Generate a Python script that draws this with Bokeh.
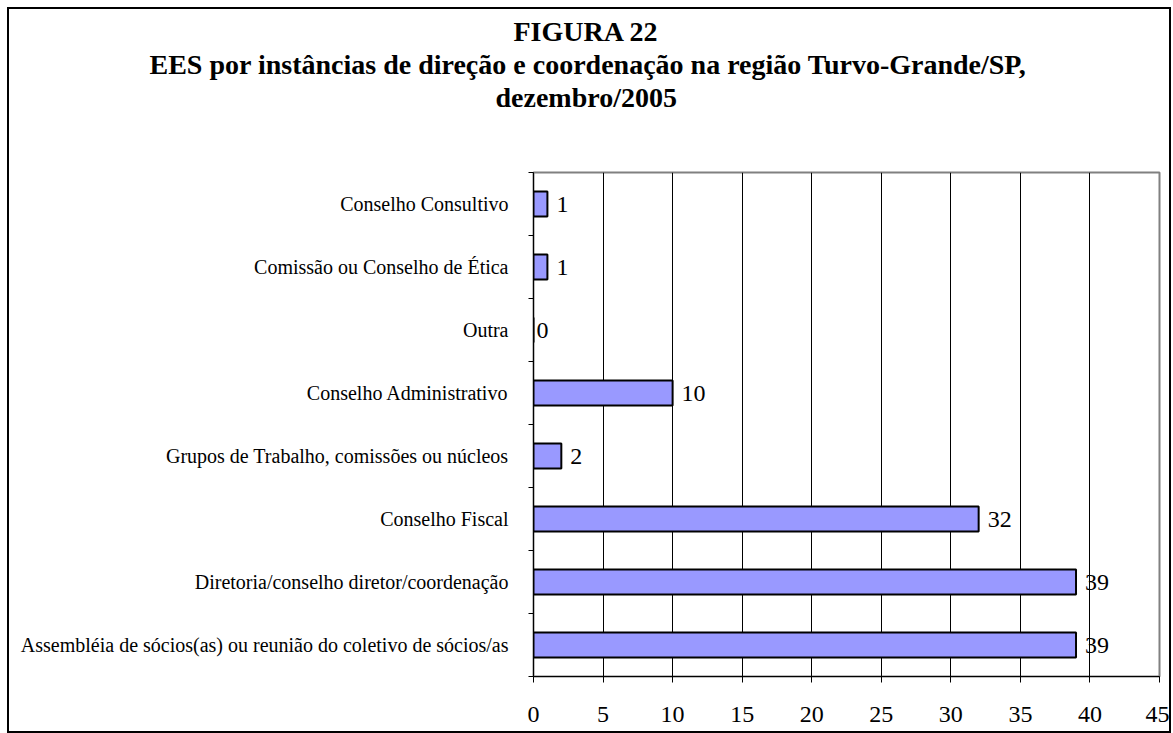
from bokeh.plotting import figure
from bokeh.models import FixedTicker, ColumnDataSource, LabelSet, Title
from bokeh.embed import file_html
from bokeh.resources import INLINE

# Data (top to bottom as shown in the reference)
categories = [
    "Conselho Consultivo",
    "Comissão ou Conselho de Ética",
    "Outra",
    "Conselho Administrativo",
    "Grupos de Trabalho, comissões ou núcleos",
    "Conselho Fiscal",
    "Diretoria/conselho diretor/coordenação",
    "Assembléia de sócios(as) ou reunião do coletivo de sócios/as",
]
counts = [1, 1, 0, 10, 2, 32, 39, 39]
x_ticks = [0, 5, 10, 15, 20, 25, 30, 35, 40, 45]
title_lines = [
    "FIGURA 22",
    "EES por instâncias de direção e coordenação na região Turvo-Grande/SP,",
    "dezembro/2005",
]

n = len(categories)
# bottom category at position 0.5
centers = [n - i - 0.5 for i in range(n)]
bounds = list(range(n + 1))

SERIF = "Liberation Serif"

p = figure(
    width=1164, height=726,
    x_range=(0, 45), y_range=(0, n),
    output_backend="svg", toolbar_location=None, title=None,
    min_border_left=524, min_border_right=14,
    min_border_top=163, min_border_bottom=59,
)
p.styles = {"border": "2px solid black", "margin-left": "7px", "margin-top": "7px",
            "box-sizing": "border-box"}

# spacer between the frame and the title block
p.add_layout(Title(text=" ", text_font_size="2px", standoff=56), "above")

# Title lines (stacked above the frame; nearest line added first)
title_offsets = [-20, -384, -38]
for line, off in reversed(list(zip(title_lines, title_offsets))):
    p.add_layout(Title(text=line, align="left", offset=off, standoff=0,
                       text_font=SERIF, text_font_size="28px",
                       text_font_style="bold", text_color="black",
                       text_line_height=0.68), "above")

src = ColumnDataSource(dict(
    y=centers, v=counts, lbl=[str(c) for c in counts],
    off=[9 if c > 0 else 3 for c in counts],
))

p.hbar(y="y", right="v", left=0, height=0.4, source=src,
       fill_color="#9999FF", line_color="black", line_width=2)
p.add_layout(LabelSet(x="v", y="y", text="lbl", x_offset="off", source=src,
                      text_font=SERIF, text_font_size="24px",
                      text_baseline="middle", text_align="left", text_color="black"))

# x axis
p.xaxis.ticker = FixedTicker(ticks=x_ticks)
p.xaxis.major_label_text_font = SERIF
p.xaxis.major_label_text_font_size = "24px"
p.xaxis.major_label_text_color = "black"
p.xaxis.major_tick_out = 6
p.xaxis.major_tick_in = 0
p.xaxis.minor_tick_out = 0
p.xaxis.minor_tick_in = 0
p.xaxis.axis_line_color = "black"
p.xaxis.major_tick_line_color = "black"
p.xaxis.major_label_standoff = 24

# y axis
p.yaxis.ticker = FixedTicker(ticks=centers, minor_ticks=bounds)
p.yaxis.major_label_overrides = {c: cat for c, cat in zip(centers, categories)}
p.yaxis.major_label_text_font = SERIF
p.yaxis.major_label_text_font_size = "20px"
p.yaxis.major_label_text_color = "black"
p.yaxis.major_tick_out = 0
p.yaxis.major_tick_in = 0
p.yaxis.minor_tick_out = 5
p.yaxis.minor_tick_in = 0
p.yaxis.minor_tick_line_color = "black"
p.yaxis.axis_line_color = "black"
p.yaxis.major_label_standoff = 20

p.xgrid.ticker = FixedTicker(ticks=x_ticks)
p.xgrid.grid_line_color = "black"
p.xgrid.grid_line_width = 1
p.ygrid.grid_line_color = None

p.outline_line_color = "#808080"
p.outline_line_width = 2
p.background_fill_color = "white"
p.border_fill_color = "white"

open("out.html", "w").write(file_html(p, INLINE))
